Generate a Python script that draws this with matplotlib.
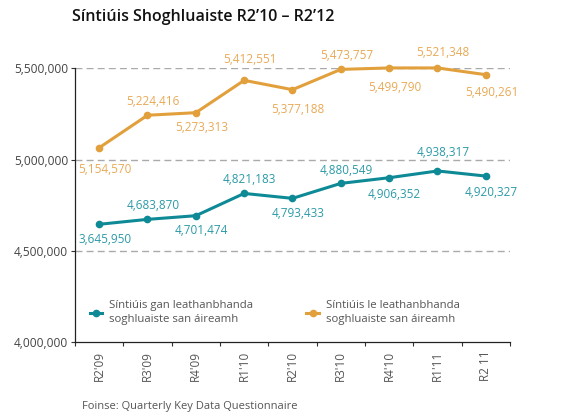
import matplotlib
matplotlib.use("Agg")
import matplotlib.pyplot as plt
from matplotlib.ticker import FuncFormatter

plt.rcParams['font.family'] = ['Open Sans', 'DejaVu Sans']

categories = ["R2'09", "R3'09", "R4'09", "R1'10", "R2'10", "R3'10", "R4'10", "R1'11", "R2 11"]
# plotted positions
teal_values = [4646000, 4673000, 4693000, 4815000, 4788000, 4870000, 4901000, 4938000, 4910000]
orange_values = [5065000, 5243000, 5257000, 5434000, 5383000, 5494000, 5502000, 5502000, 5465000]
# data labels as printed
teal_labels = ["3,645,950", "4,683,870", "4,701,474", "4,821,183", "4,793,433",
               "4,880,549", "4,906,352", "4,938,317", "4,920,327"]
orange_labels = ["5,154,570", "5,224,416", "5,273,313", "5,412,551", "5,377,188",
                 "5,473,757", "5,499,790", "5,521,348", "5,490,261"]
teal_name = "Síntiúis gan leathanbhanda\nsoghluaiste san áireamh"
orange_name = "Síntiúis le leathanbhanda\nsoghluaiste san áireamh"
yticks = [4000000, 4500000, 5000000, 5500000]

TEAL = "#0E8A96"
TEAL_TXT = "#2B9AA7"
ORANGE = "#E2A03C"
ORANGE_TXT = "#E9A955"

fig = plt.figure(figsize=(5.73, 4.17), dpi=100)
ax = fig.add_axes([75/573, 1 - 342.3/417, (510-75)/573, (342.3-68.3)/417])

x = list(range(len(categories)))
ax.plot(x, teal_values, color=TEAL, lw=2.2, marker='o', ms=4.5, clip_on=False,
        label=teal_name, zorder=3)
ax.plot(x, orange_values, color=ORANGE, lw=2.2, marker='o', ms=4.5, clip_on=False,
        label=orange_name, zorder=3)

ax.set_xlim(-0.5, len(categories) - 0.5)
ax.set_ylim(4000000, 5500000)

# label offsets in points: alternate below / above
teal_off = [-11, 10, -11, 10, -11, 9, -12, 13, -12]
orange_off = [-16, 10, -11, 15, -14, 10, -14, 11, -13]
for i in range(len(categories)):
    ax.annotate(teal_labels[i], (x[i], teal_values[i]), xytext=(4, teal_off[i]),
                textcoords='offset points', ha='center', va='center',
                color=TEAL_TXT, fontsize=8.5, annotation_clip=False)
    ax.annotate(orange_labels[i], (x[i], orange_values[i]), xytext=(4, orange_off[i]),
                textcoords='offset points', ha='center', va='center',
                color=ORANGE_TXT, fontsize=8.5, annotation_clip=False)

ax.set_yticks(yticks)
ax.yaxis.set_major_formatter(FuncFormatter(lambda v, p: f"{int(v):,}"))
for yv in yticks[1:]:
    ax.axhline(yv, color="#AAAAAA", lw=1.0, ls=(0, (5, 3)), zorder=1)

ax.set_xticks([i - 0.5 for i in range(len(categories) + 1)], minor=False)
ax.set_xticklabels([])
ax.set_xticks(x, minor=True)
ax.set_xticklabels(categories, minor=True, rotation=90, fontsize=8.5, color="#555555")
ax.tick_params(axis='x', which='minor', length=0, pad=6)
ax.tick_params(axis='x', which='major', length=3, width=0.8, color="#333333", direction='out')
ax.tick_params(axis='y', length=3, width=0.8, color="#333333", labelsize=8.6,
               labelcolor="#444444", pad=2)

for s in ['top', 'right']:
    ax.spines[s].set_visible(False)
for s in ['left', 'bottom']:
    ax.spines[s].set_color("#222222")
    ax.spines[s].set_linewidth(0.9)

leg = ax.legend(loc='upper left', bbox_to_anchor=(0.01, 0.19), ncol=2, frameon=False,
                fontsize=8.2, handlelength=1.1, columnspacing=4.7, handletextpad=0.6,
                labelcolor="#555555", labelspacing=0.3)
for t in leg.get_texts():
    t.set_linespacing(1.35)

fig.text(72/573, 1 - 17/417, "Síntiúis Shoghluaiste R2’10 – R2’12", fontsize=11.5,
         fontweight='semibold', color="#111111", va='center', ha='left')
fig.text(82/573, 1 - 406/417, "Foinse: Quarterly Key Data Questionnaire", fontsize=8.0,
         color="#555555", va='center', ha='left')

fig.savefig("out.png", dpi=100)
